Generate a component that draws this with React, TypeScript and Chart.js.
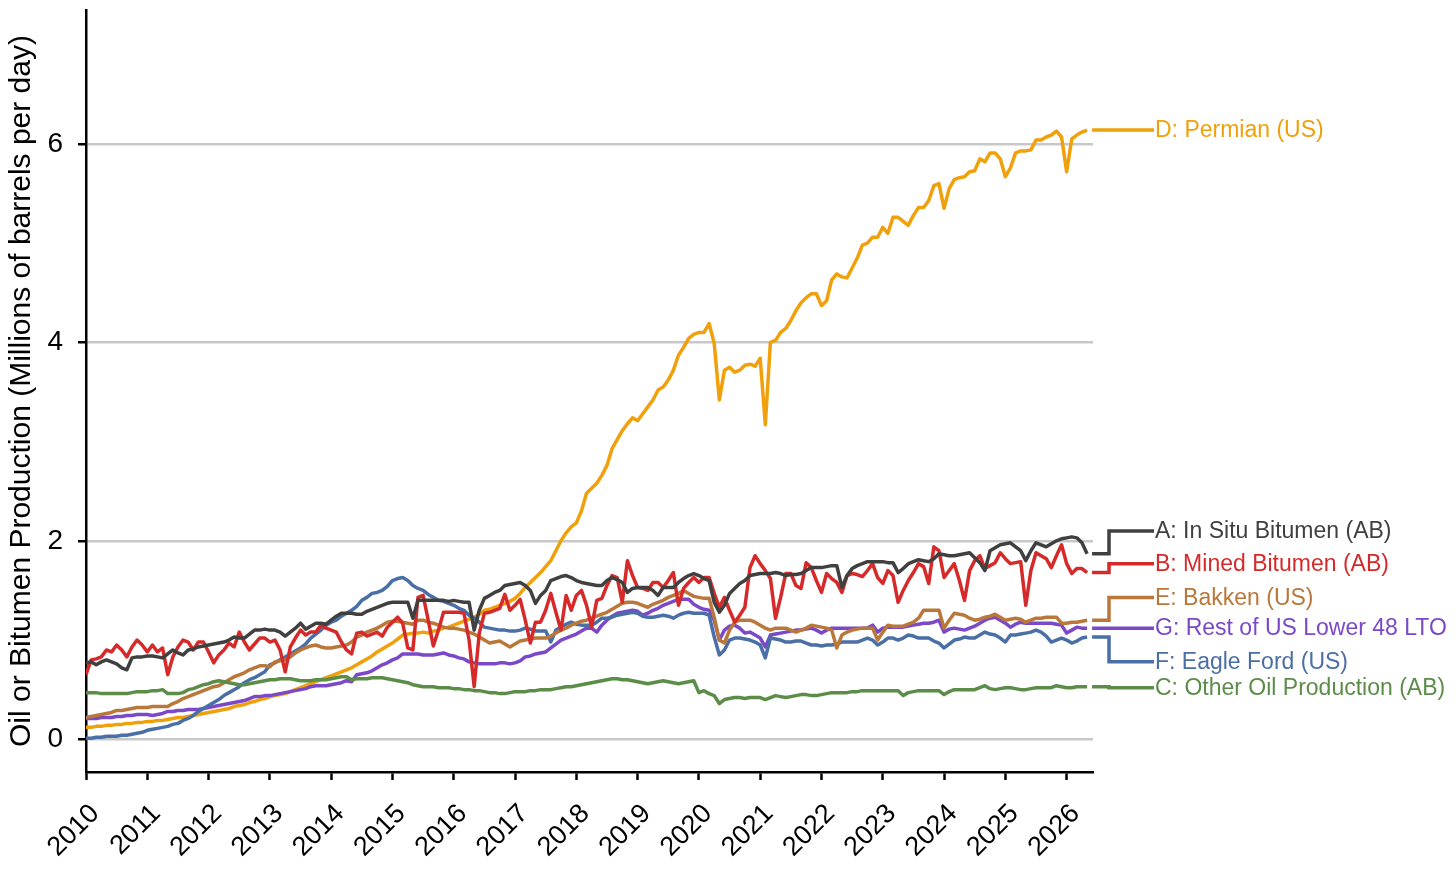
import React, { useEffect, useRef } from 'react';
import Chart from 'chart.js/auto';

// monthly values, Jan 2010 onwards (millions of barrels per day)
const START_YEAR = 2010;

const inSitu = [
  0.77, 0.78, 0.75, 0.78, 0.80, 0.78, 0.76, 0.72, 0.70, 0.82, 0.83, 0.83,
  0.84, 0.84, 0.83, 0.82, 0.86, 0.90, 0.87, 0.85, 0.90, 0.91, 0.93, 0.94,
  0.95, 0.96, 0.97, 0.98, 1.00, 1.03, 1.02, 1.02, 1.06, 1.10, 1.10, 1.11,
  1.10, 1.10, 1.08, 1.04, 1.08, 1.12, 1.17, 1.11, 1.14, 1.17, 1.17, 1.16,
  1.20, 1.24, 1.27, 1.27, 1.27, 1.26, 1.26, 1.29, 1.31, 1.33, 1.35, 1.37,
  1.38, 1.38, 1.38, 1.38, 1.22, 1.40, 1.40, 1.40, 1.40, 1.40, 1.40, 1.39,
  1.40, 1.39, 1.38, 1.38, 1.10, 1.30, 1.42, 1.45, 1.48, 1.50, 1.55, 1.56,
  1.57, 1.58, 1.55, 1.50, 1.37, 1.45, 1.50, 1.60, 1.62, 1.64, 1.65, 1.63,
  1.60, 1.58, 1.57, 1.56, 1.55, 1.55, 1.60, 1.63, 1.61, 1.58, 1.48, 1.52,
  1.53, 1.53, 1.53, 1.50, 1.45, 1.53, 1.53, 1.53, 1.58, 1.62, 1.65, 1.67,
  1.65, 1.62, 1.60, 1.38, 1.28, 1.35, 1.47, 1.52, 1.57, 1.60, 1.65, 1.66,
  1.67, 1.67, 1.67, 1.68, 1.67, 1.65, 1.66, 1.66, 1.67, 1.70, 1.73, 1.73,
  1.73, 1.74, 1.75, 1.75, 1.53, 1.65, 1.72, 1.75, 1.77, 1.79, 1.79, 1.79,
  1.79, 1.78, 1.78, 1.68, 1.72, 1.77, 1.79, 1.81, 1.80, 1.79, 1.82, 1.87,
  1.86, 1.85, 1.85, 1.86, 1.87, 1.88, 1.83, 1.78, 1.70, 1.90, 1.93, 1.96,
  1.97, 1.98, 1.94, 1.90, 1.80, 1.90, 1.98, 1.96, 1.94, 1.97, 2.00, 2.02,
  2.03, 2.04, 2.03, 1.98, 1.87,
];

const mined = [
  0.65, 0.80, 0.81, 0.83, 0.90, 0.88, 0.95, 0.90, 0.83, 0.93, 1.00, 0.95,
  0.88, 0.95, 0.88, 0.92, 0.65, 0.83, 0.93, 1.00, 0.98, 0.90, 0.98, 0.98,
  0.88, 0.77, 0.85, 0.90, 0.97, 0.93, 1.08, 0.98, 0.90, 0.96, 1.02, 1.02,
  0.98, 1.00, 0.90, 0.68, 0.93, 1.02, 1.10, 1.05, 1.08, 1.08, 1.15, 1.12,
  1.10, 1.08, 0.98, 0.90, 0.86, 1.07, 1.08, 1.04, 1.06, 1.08, 1.04, 1.13,
  1.18, 1.23, 1.17, 0.92, 0.90, 1.43, 1.45, 1.20, 0.94, 1.10, 1.28, 1.28,
  1.28, 1.28, 1.27, 1.00, 0.53, 1.07, 1.27, 1.28, 1.30, 1.32, 1.46, 1.30,
  1.35, 1.41, 1.20, 0.97, 1.18, 1.18, 1.30, 1.47, 1.28, 1.10, 1.45, 1.30,
  1.45, 1.50, 1.35, 1.13, 1.40, 1.42, 1.55, 1.65, 1.63, 1.38, 1.80, 1.65,
  1.53, 1.52, 1.50, 1.58, 1.58, 1.53, 1.60, 1.68, 1.35, 1.52, 1.58, 1.63,
  1.58, 1.63, 1.63, 1.47, 1.33, 1.43, 1.30, 1.18, 1.25, 1.33, 1.73, 1.85,
  1.77, 1.70, 1.62, 1.22, 1.43, 1.67, 1.67, 1.55, 1.52, 1.78, 1.73, 1.60,
  1.48, 1.67, 1.62, 1.58, 1.48, 1.65, 1.67, 1.66, 1.64, 1.70, 1.77, 1.63,
  1.57, 1.70, 1.65, 1.38, 1.50, 1.60, 1.68, 1.77, 1.74, 1.57, 1.94, 1.90,
  1.63, 1.70, 1.77, 1.60, 1.40, 1.70, 1.80, 1.85, 1.72, 1.75, 1.78, 1.88,
  1.82, 1.77, 1.78, 1.79, 1.35, 1.70, 1.88, 1.85, 1.82, 1.73, 1.85, 1.96,
  1.77, 1.67, 1.72, 1.72, 1.68,
];

const otherAB = [
  0.47, 0.47, 0.47, 0.46, 0.46, 0.46, 0.46, 0.46, 0.46, 0.47, 0.48, 0.48,
  0.48, 0.49, 0.49, 0.50, 0.46, 0.46, 0.46, 0.47, 0.50, 0.51, 0.53, 0.55,
  0.56, 0.58, 0.59, 0.58, 0.57, 0.56, 0.55, 0.55, 0.56, 0.57, 0.58, 0.59,
  0.60, 0.60, 0.61, 0.61, 0.61, 0.60, 0.59, 0.59, 0.59, 0.60, 0.60, 0.60,
  0.61, 0.62, 0.63, 0.63, 0.60, 0.61, 0.61, 0.61, 0.62, 0.62, 0.62, 0.61,
  0.60, 0.59, 0.58, 0.57, 0.55, 0.54, 0.53, 0.53, 0.53, 0.52, 0.52, 0.52,
  0.51, 0.51, 0.50, 0.50, 0.49, 0.49, 0.48, 0.47, 0.47, 0.46, 0.46, 0.47,
  0.48, 0.48, 0.48, 0.49, 0.49, 0.50, 0.50, 0.50, 0.51, 0.52, 0.53, 0.53,
  0.54, 0.55, 0.56, 0.57, 0.58, 0.59, 0.60, 0.61, 0.61, 0.60, 0.60, 0.59,
  0.58, 0.57, 0.56, 0.57, 0.58, 0.59, 0.58, 0.57, 0.56, 0.57, 0.58, 0.59,
  0.47, 0.49, 0.46, 0.44, 0.36, 0.40, 0.41, 0.42, 0.42, 0.41, 0.42, 0.42,
  0.42, 0.40, 0.42, 0.44, 0.43, 0.42, 0.43, 0.44, 0.45, 0.45, 0.44, 0.44,
  0.45, 0.46, 0.47, 0.47, 0.47, 0.47, 0.48, 0.48, 0.49, 0.49, 0.49, 0.49,
  0.49, 0.49, 0.49, 0.49, 0.44, 0.47, 0.48, 0.49, 0.49, 0.49, 0.49, 0.49,
  0.45, 0.48, 0.50, 0.50, 0.50, 0.50, 0.50, 0.52, 0.54, 0.51, 0.50, 0.51,
  0.52, 0.52, 0.51, 0.50, 0.50, 0.51, 0.52, 0.52, 0.52, 0.52, 0.54, 0.53,
  0.52, 0.52, 0.53, 0.53, 0.53,
];

const permian = [
  0.12, 0.12, 0.13, 0.13, 0.14, 0.14, 0.15, 0.15, 0.16, 0.16, 0.17, 0.17,
  0.18, 0.18, 0.19, 0.19, 0.20, 0.21, 0.22, 0.22, 0.23, 0.24, 0.25, 0.26,
  0.27, 0.28, 0.29, 0.30, 0.31, 0.33, 0.34, 0.35, 0.37, 0.38, 0.40, 0.41,
  0.43, 0.44, 0.45, 0.46, 0.48, 0.50, 0.52, 0.54, 0.56, 0.58, 0.60, 0.62,
  0.64, 0.66, 0.68, 0.70, 0.72, 0.75, 0.78, 0.81, 0.84, 0.88, 0.91, 0.94,
  0.97, 1.01, 1.05, 1.06, 1.07, 1.07, 1.08, 1.07, 1.09, 1.10, 1.12, 1.13,
  1.15, 1.17, 1.19, 1.21, 1.23, 1.26, 1.30, 1.31, 1.33, 1.35, 1.37, 1.39,
  1.42, 1.47, 1.53, 1.58, 1.63, 1.68, 1.74, 1.80, 1.90, 2.00, 2.08, 2.14,
  2.18, 2.30, 2.48, 2.53, 2.58, 2.66, 2.76, 2.93, 3.02, 3.11, 3.18, 3.24,
  3.21, 3.28, 3.35, 3.42, 3.52, 3.55, 3.62, 3.72, 3.87, 3.95, 4.04, 4.08,
  4.10, 4.10, 4.19, 3.99, 3.42, 3.72, 3.75, 3.70, 3.72, 3.77, 3.78, 3.76,
  3.84, 3.17, 4.00, 4.02, 4.10, 4.14, 4.22, 4.32, 4.40, 4.45, 4.49, 4.49,
  4.37, 4.42, 4.63, 4.69, 4.66, 4.65, 4.75, 4.85, 4.98, 5.00, 5.06, 5.06,
  5.16, 5.10, 5.26, 5.26, 5.22, 5.18, 5.28, 5.36, 5.36, 5.43, 5.58, 5.60,
  5.35, 5.55, 5.64, 5.66, 5.67, 5.72, 5.73, 5.85, 5.82, 5.91, 5.91, 5.85,
  5.67, 5.76, 5.91, 5.93, 5.93, 5.94, 6.04, 6.04, 6.07, 6.09, 6.13, 6.07,
  5.72, 6.05, 6.09, 6.12, 6.14,
];

const bakken = [
  0.22, 0.23, 0.24, 0.25, 0.26, 0.27, 0.29, 0.29, 0.30, 0.31, 0.32, 0.32,
  0.32, 0.33, 0.33, 0.33, 0.33, 0.36, 0.38, 0.41, 0.43, 0.45, 0.47, 0.49,
  0.51, 0.53, 0.54, 0.57, 0.60, 0.63, 0.65, 0.67, 0.70, 0.72, 0.74, 0.74,
  0.73, 0.78, 0.79, 0.80, 0.83, 0.87, 0.90, 0.92, 0.94, 0.95, 0.93, 0.92,
  0.92, 0.93, 0.94, 0.95, 0.98, 1.03, 1.05, 1.08, 1.10, 1.12, 1.15, 1.18,
  1.19, 1.19, 1.18, 1.17, 1.16, 1.20, 1.20, 1.18, 1.17, 1.15, 1.13, 1.12,
  1.12, 1.11, 1.10, 1.08, 1.06, 1.03, 1.00, 0.97, 0.98, 0.99, 0.96, 0.93,
  0.96, 0.99, 1.00, 1.01, 1.02, 1.02, 1.02, 1.04, 1.07, 1.10, 1.12, 1.15,
  1.17, 1.19, 1.20, 1.22, 1.24, 1.26, 1.28, 1.31, 1.34, 1.37, 1.38, 1.38,
  1.37, 1.35, 1.33, 1.36, 1.38, 1.40, 1.43, 1.45, 1.47, 1.50, 1.47, 1.44,
  1.43, 1.42, 1.42, 1.23, 1.00, 0.97, 1.10, 1.18, 1.20, 1.20, 1.20, 1.18,
  1.15, 1.12, 1.10, 1.12, 1.12, 1.12, 1.10, 1.08, 1.10, 1.12, 1.15, 1.14,
  1.13, 1.12, 1.10, 0.92, 1.05, 1.08, 1.10, 1.11, 1.12, 1.12, 1.12, 1.00,
  1.08, 1.15, 1.14, 1.14, 1.14, 1.16, 1.18, 1.22, 1.30, 1.30, 1.30, 1.30,
  1.12, 1.20, 1.27, 1.26, 1.25, 1.22, 1.20, 1.21, 1.23, 1.24, 1.26, 1.23,
  1.20, 1.21, 1.22, 1.21, 1.18, 1.20, 1.22, 1.22, 1.23, 1.23, 1.23, 1.17,
  1.17, 1.18, 1.18, 1.19, 1.20,
];

const eagleFord = [
  0.01, 0.01, 0.02, 0.02, 0.03, 0.03, 0.03, 0.04, 0.04, 0.05, 0.06, 0.07,
  0.09, 0.10, 0.11, 0.12, 0.13, 0.15, 0.16, 0.19, 0.21, 0.24, 0.28, 0.31,
  0.34, 0.37, 0.40, 0.44, 0.47, 0.50, 0.53, 0.57, 0.60, 0.62, 0.65, 0.68,
  0.75, 0.77, 0.80, 0.83, 0.86, 0.89, 0.92, 0.96, 1.02, 1.06, 1.10, 1.15,
  1.18, 1.20, 1.24, 1.27, 1.30, 1.34, 1.40, 1.43, 1.47, 1.48, 1.50, 1.54,
  1.60, 1.62, 1.63, 1.60, 1.55, 1.52, 1.50, 1.46, 1.43, 1.40, 1.39, 1.37,
  1.35, 1.32, 1.30, 1.25, 1.22, 1.18, 1.13, 1.12, 1.11, 1.10, 1.10, 1.09,
  1.09, 1.10, 1.12, 1.11, 1.09, 1.09, 1.09, 0.98, 1.10, 1.13, 1.16, 1.18,
  1.16, 1.15, 1.15, 1.15, 1.18, 1.22, 1.22, 1.23, 1.25, 1.26, 1.27, 1.28,
  1.27, 1.24, 1.23, 1.23, 1.24, 1.25, 1.24, 1.22, 1.25, 1.27, 1.28, 1.27,
  1.27, 1.27, 1.25, 1.03, 0.85, 0.90, 1.00, 1.02, 1.02, 1.01, 1.00, 0.98,
  0.95, 0.82, 1.02, 1.01, 1.00, 0.98, 0.98, 0.99, 0.99, 0.97, 0.95, 0.95,
  0.94, 0.95, 0.95, 0.96, 0.98, 0.98, 0.98, 0.98, 1.00, 1.02, 1.00, 0.95,
  0.98, 1.02, 1.02, 1.00, 1.02, 1.05, 1.04, 1.02, 1.02, 1.02, 0.99, 0.97,
  0.92, 0.96, 1.00, 1.01, 1.03, 1.02, 1.02, 1.05, 1.08, 1.06, 1.05, 1.02,
  0.98, 1.05, 1.05, 1.06, 1.07, 1.08, 1.10, 1.08, 1.04, 0.98, 1.00, 1.02,
  1.00, 0.97, 0.99, 1.02, 1.03,
];

const restLower48 = [
  0.21, 0.21, 0.21, 0.22, 0.22, 0.22, 0.23, 0.23, 0.24, 0.24, 0.25, 0.25,
  0.25, 0.24, 0.25, 0.26, 0.28, 0.28, 0.29, 0.29, 0.30, 0.30, 0.30, 0.31,
  0.32, 0.33, 0.34, 0.35, 0.36, 0.37, 0.38, 0.39, 0.41, 0.43, 0.43, 0.44,
  0.44, 0.45, 0.46, 0.47, 0.48, 0.49, 0.50, 0.51, 0.53, 0.54, 0.54, 0.54,
  0.55, 0.56, 0.57, 0.59, 0.58, 0.65, 0.66, 0.67, 0.69, 0.72, 0.75, 0.77,
  0.80, 0.82, 0.86, 0.86, 0.86, 0.86, 0.85, 0.85, 0.85, 0.86, 0.87, 0.85,
  0.84, 0.82, 0.81, 0.78, 0.77, 0.76, 0.76, 0.76, 0.76, 0.77, 0.77, 0.76,
  0.77, 0.79, 0.83, 0.84, 0.86, 0.87, 0.88, 0.92, 0.96, 1.00, 1.02, 1.04,
  1.06, 1.09, 1.12, 1.12, 1.08, 1.15, 1.20, 1.24, 1.27, 1.28, 1.29, 1.30,
  1.29, 1.25, 1.27, 1.30, 1.32, 1.35, 1.37, 1.39, 1.41, 1.41, 1.41, 1.36,
  1.33, 1.31, 1.30, 1.20, 1.00, 1.10, 1.14, 1.15, 1.12, 1.07, 1.08, 1.05,
  1.02, 0.93, 1.05, 1.06, 1.07, 1.08, 1.09, 1.10, 1.10, 1.11, 1.12, 1.10,
  1.07, 1.10, 1.12, 1.12, 1.12, 1.12, 1.12, 1.12, 1.12, 1.12, 1.15, 1.08,
  1.12, 1.13, 1.13, 1.13, 1.13, 1.14, 1.15, 1.16, 1.17, 1.17, 1.18, 1.20,
  1.08, 1.11, 1.12, 1.11, 1.10, 1.12, 1.14, 1.17, 1.20, 1.22, 1.23, 1.20,
  1.17, 1.13, 1.16, 1.18, 1.17, 1.17, 1.17, 1.17, 1.17, 1.17, 1.16, 1.15,
  1.07, 1.10, 1.13, 1.12, 1.12,
];

const seriesNames = [
  'A: In Situ Bitumen (AB)',
  'B: Mined Bitumen (AB)',
  'C: Other Oil Production (AB)',
  'E: Bakken (US)',
  'F: Eagle Ford (US)',
  'G: Rest of US Lower 48 LTO',
  'D: Permian (US)',
];
const seriesValues = [inSitu, mined, otherAB, bakken, eagleFord, restLower48, permian];
const seriesColors = ['#404040', '#d62a2a', '#5b8d49', '#b9783a', '#4a6fa6', '#7b48c8', '#f0a00a'];
// vertical level (in axis units) where each end label sits
const labelLevels = [2.1, 1.77, 0.52, 1.43, 0.78, 1.12, 6.14];

const xTicks = [2010, 2011, 2012, 2013, 2014, 2015, 2016, 2017, 2018, 2019, 2020, 2021, 2022, 2023, 2024, 2025, 2026];
const yTicks = [0, 2, 4, 6];

const FONT = '"Liberation Sans", Arial, Helvetica, sans-serif';

const endLabels = {
  id: 'endLabels',
  afterDatasetsDraw(chart: any) {
    const { ctx, chartArea, scales } = chart;
    const elbowX = chartArea.right + 16;
    const textX = chartArea.right + 62;
    ctx.save();
    ctx.lineWidth = 3.5;
    ctx.lineJoin = 'miter';
    ctx.font = `23px ${FONT}`;
    ctx.textBaseline = 'middle';
    ctx.textAlign = 'left';
    chart.data.datasets.forEach((ds: any, i: number) => {
      const pts = chart.getDatasetMeta(i).data;
      const last = pts[pts.length - 1];
      const yl = scales.y.getPixelForValue(labelLevels[i]);
      ctx.strokeStyle = seriesColors[i];
      ctx.beginPath();
      ctx.moveTo(last.x + 5, last.y);
      ctx.lineTo(elbowX, last.y);
      ctx.lineTo(elbowX, yl);
      ctx.lineTo(textX - 1, yl);
      ctx.stroke();
      ctx.fillStyle = seriesColors[i];
      ctx.fillText(seriesNames[i], textX, yl + 1);
    });
    ctx.restore();
  },
};

const App: React.FC = () => {
  const canvasRef = useRef<HTMLCanvasElement>(null);

  useEffect(() => {
    if (!canvasRef.current) return;
    const ctx = canvasRef.current.getContext('2d');
    if (!ctx) return;

    const chart = new Chart(ctx, {
      type: 'line',
      data: {
        datasets: seriesValues.map((vals, i) => ({
          label: seriesNames[i],
          data: vals.map((v, m) => ({ x: START_YEAR + m / 12, y: v })),
          borderColor: seriesColors[i],
          backgroundColor: seriesColors[i],
          borderWidth: 3.5,
          borderJoinStyle: 'round',
          pointRadius: 0,
          tension: 0,
          fill: false,
        })),
      },
      options: {
        animation: false,
        responsive: false,
        events: [],
        layout: { padding: { left: 0, top: 10, right: 363, bottom: 0 } },
        plugins: {
          legend: { display: false },
          tooltip: { enabled: false },
        },
        scales: {
          x: {
            type: 'linear',
            min: 2010,
            max: 2026.43,
            afterBuildTicks: (s: any) => { s.ticks = xTicks.map((v) => ({ value: v })); },
            afterFit: (s: any) => {
              s.height = 102;
              s.paddingLeft = 0;
              s.paddingRight = 0;
            },
            ticks: {
              autoSkip: false,
              maxRotation: 45,
              minRotation: 45,
              color: '#000',
              padding: 18,
              labelOffset: 9,
              font: { size: 27, family: FONT },
              callback: (v: any) => String(v),
            },
            grid: {
              drawOnChartArea: false,
              drawTicks: true,
              tickLength: 8,
              tickColor: '#000',
              tickWidth: 2.5,
            },
            border: { display: true, color: '#000', width: 2.5 },
          },
          y: {
            type: 'linear',
            min: -0.33,
            max: 7.35,
            afterBuildTicks: (s: any) => { s.ticks = yTicks.map((v) => ({ value: v })); },
            afterFit: (s: any) => {
              s.width = 86;
              s.paddingTop = 0;
              s.paddingBottom = 0;
            },
            ticks: {
              color: '#000',
              padding: 15,
              font: { size: 28, family: FONT },
              callback: (v: any) => String(v),
            },
            grid: {
              color: '#c8c8c8',
              lineWidth: 2.5,
              drawTicks: true,
              tickLength: 8,
              tickColor: '#000',
              tickWidth: 2.5,
            },
            border: { display: true, color: '#000', width: 2.5 },
            title: {
              display: true,
              text: 'Oil or Bitumen Production (Millions of barrels per day)',
              color: '#000',
              font: { size: 30, family: FONT },
              padding: { top: 4, bottom: 0 },
            },
          },
        },
      },
      plugins: [endLabels],
    } as any);

    return () => {
      chart.destroy();
    };
  }, []);

  return (
    <div style={{ position: 'absolute', left: 0, top: 0, width: 1456, height: 874, background: '#fff' }}>
      <canvas ref={canvasRef} width={1456} height={874} />
    </div>
  );
};

export default App;
